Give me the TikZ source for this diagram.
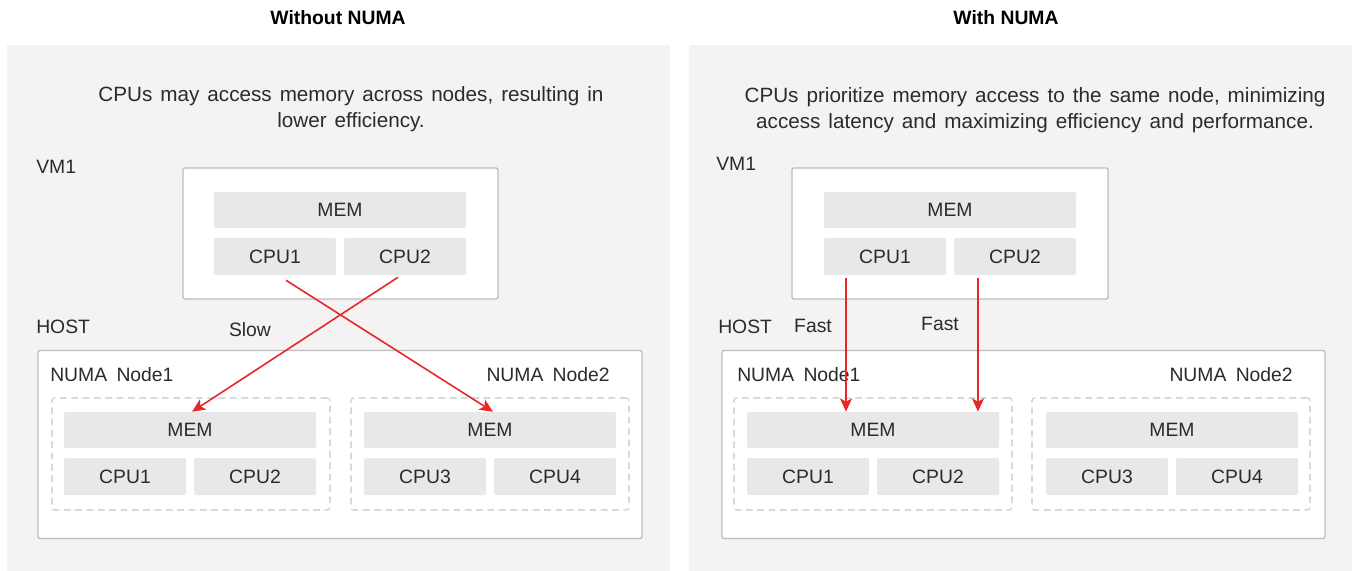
\documentclass[tikz,border=0pt]{standalone}
\usepackage{fontspec}
\setmainfont{Liberation Sans}
\usetikzlibrary{arrows.meta,positioning}
\definecolor{panelbg}{HTML}{F4F2F3}
\definecolor{cellgray}{HTML}{E8E8E8}
\definecolor{linegray}{HTML}{BDBDBD}
\definecolor{dashgray}{HTML}{D9D9D9}
\definecolor{textgray}{HTML}{2B2B2B}
\definecolor{arrred}{HTML}{E8272B}
\newcommand\labelfont{\fontsize{14.5}{19.5}\selectfont\spaceskip 7pt\relax}
\newcommand\titlefont{\fontsize{14.5}{17}\selectfont\bfseries}
\newcommand\descfont{\fontsize{15.5}{20}\selectfont\spaceskip 6pt\relax}
\begin{document}
\begin{tikzpicture}[x=0.75pt,y=-0.75pt,
    font=\labelfont, text=textgray,
    panel/.style={fill=panelbg, draw=none, inner sep=0pt, minimum width=663*0.75pt, minimum height=526*0.75pt},
    vmbox/.style={fill=white, draw=linegray, line width=1pt, rounded corners=1.5pt, inner sep=0pt, minimum width=315*0.75pt, minimum height=131*0.75pt},
    hostbox/.style={fill=white, draw=linegray, line width=1pt, rounded corners=1.5pt, inner sep=0pt, minimum width=604*0.75pt, minimum height=188*0.75pt},
    numabox/.style={draw=dashgray, line width=1.2pt, dash pattern=on 5pt off 3.5pt, rounded corners=2pt, inner sep=0pt, minimum width=278*0.75pt, minimum height=112*0.75pt},
    memcell/.style={fill=cellgray, rounded corners=1.5pt, inner sep=0pt, minimum width=252*0.75pt, minimum height=36*0.75pt},
    cpucell/.style={fill=cellgray, rounded corners=1.5pt, inner sep=0pt, minimum width=122*0.75pt, minimum height=37*0.75pt},
    desc/.style={align=center, font=\descfont},
    lbl/.style={inner sep=0pt, anchor=west},
    arr/.style={-{Stealth[length=10pt,width=9pt,inset=2.5pt]}, arrred, line width=1.2pt}]

    \useasboundingbox (0,0) rectangle (1357,571);

    % Panels and titles
    \node[panel] (lpanel) at (338.5,308) {};
    \node[panel] (rpanel) at (1020.5,308) {};
    \node[font=\titlefont, text=black] (ltitle) at (338,18) {Without NUMA};
    \node[font=\titlefont, text=black] (rtitle) at (1006,18) {With NUMA};

    % Without NUMA
    \node[desc] (ldesc) at (351,109) {CPUs may access memory across nodes, resulting in\\lower efficiency.};
    \node[lbl] (lvmlbl) at (36,167) {VM1};
    \node[vmbox] (lvm) at (340.5,233.5) {};
    \node[memcell] (lvmem) at (340,210) {MEM};
    \node[cpucell] (lvcpu1) at (275,256.5) {CPU1};
    \node[cpucell] (lvcpu2) at (405,256.5) {CPU2};

    \node[lbl] (lhostlbl) at (36,327) {HOST};
    \node[inner sep=0pt] (slow) at (250,330) {Slow};
    \node[hostbox] (lhost) at (340,444.5) {};
    \node[lbl] (lnode1lbl) at (50,375) {NUMA Node1};
    \node[inner sep=0pt, anchor=east] (lnode2lbl) at (610,375) {NUMA Node2};
    \node[numabox] (lnuma1) at (191,454) {};
    \node[numabox] (lnuma2) at (490,454) {};
    \node[memcell] (lmem1) at (190,430) {MEM};
    \node[cpucell] (lcpu1) at (125,476.5) {CPU1};
    \node[cpucell] (lcpu2) at (255,476.5) {CPU2};
    \node[memcell] (lmem2) at (490,430) {MEM};
    \node[cpucell] (lcpu3) at (425,476.5) {CPU3};
    \node[cpucell] (lcpu4) at (555,476.5) {CPU4};

    % cross-node access
    \draw[arr] ([xshift=8.25pt,yshift=-3.75pt]lvcpu1.south) -- ([xshift=2.25pt]lmem2.north);
    \draw[arr] ([xshift=-5.25pt,yshift=-1.5pt]lvcpu2.south) -- ([xshift=1.5pt]lmem1.north);

    % With NUMA
    \node[desc] (rdesc) at (1035,110) {CPUs prioritize memory access to the same node, minimizing\\access latency and maximizing efficiency and performance.};
    \node[lbl] (rvmlbl) at (716,164) {VM1};
    \node[vmbox, minimum width=316*0.75pt] (rvm) at (950,233.5) {};
    \node[memcell] (rvmem) at (950,210) {MEM};
    \node[cpucell] (rvcpu1) at (885,256.5) {CPU1};
    \node[cpucell] (rvcpu2) at (1015,256.5) {CPU2};

    \node[lbl] (rhostlbl) at (718,327) {HOST};
    \node[inner sep=0pt] (fast1) at (813,326) {Fast};
    \node[inner sep=0pt] (fast2) at (940,324) {Fast};
    \node[hostbox, minimum width=603*0.75pt] (rhost) at (1023.5,444.5) {};
    \node[lbl] (rnode1lbl) at (737,375) {NUMA Node1};
    \node[inner sep=0pt, anchor=east] (rnode2lbl) at (1293,375) {NUMA Node2};
    \node[numabox] (rnuma1) at (873,454) {};
    \node[numabox] (rnuma2) at (1171,454) {};
    \node[memcell] (rmem1) at (873,430) {MEM};
    \node[cpucell] (rcpu1) at (808,476.5) {CPU1};
    \node[cpucell] (rcpu2) at (938,476.5) {CPU2};
    \node[memcell] (rmem2) at (1172,430) {MEM};
    \node[cpucell] (rcpu3) at (1107,476.5) {CPU3};
    \node[cpucell] (rcpu4) at (1237,476.5) {CPU4};

    % local access
    \coordinate (f1) at (846,278);
    \coordinate (f2) at (978,278);
    \draw[arr] (f1) -- (f1 |- rmem1.north);
    \draw[arr] (f2) -- (f2 |- rmem1.north);
\end{tikzpicture}
\end{document}
